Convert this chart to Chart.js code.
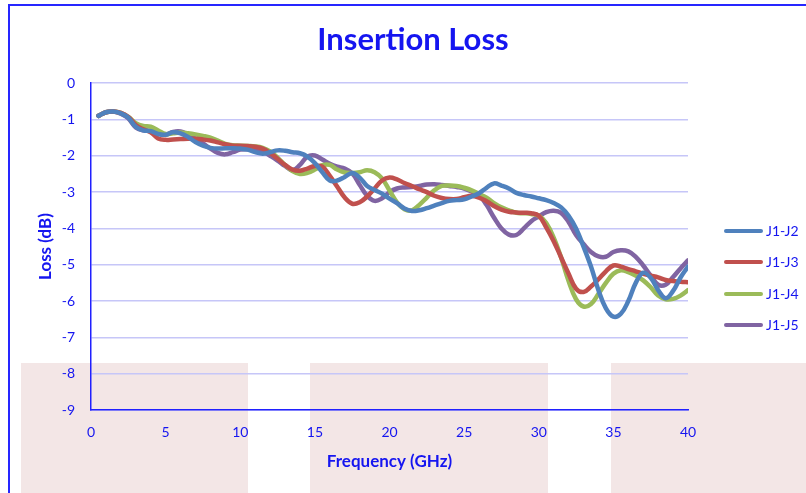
<!DOCTYPE html>
<html>
<head>
<meta charset="utf-8">
<script src="https://cdn.jsdelivr.net/npm/chart.js@4.4.1/dist/chart.umd.min.js"></script>
<style>
  html, body { margin: 0; padding: 0; background: #fff; overflow: hidden; }
  #wrap { position: relative; width: 806px; height: 493px; overflow: hidden; font-family: Lato, sans-serif; }
  .pink { position: absolute; top: 363px; height: 140px; background: #f3e6e6; }
  #frame { position: absolute; left: 8px; top: 4px; width: 900px; height: 600px;
           border-left: 2px solid #2626ff; border-top: 2px solid #2626ff; }
  #chart { position: absolute; left: 0; top: 0; }
  #legend { position: absolute; left: 724px; top: 0; }
  .item { position: absolute; left: 0; width: 90px; height: 18px; }
  .item .sw { position: absolute; left: 0; top: 7px; width: 39px; height: 4px; border-radius: 2px; }
  .item .lb { position: absolute; left: 42px; top: 0; font-size: 14px; line-height: 18px; color: #1515f0; white-space: nowrap; }
</style>
</head>
<body>
<div id="wrap">
  <div class="pink" style="left:21px;width:227px"></div>
  <div class="pink" style="left:310px;width:238px"></div>
  <div class="pink" style="left:611px;width:200px"></div>
  <div id="frame"></div>
  <canvas id="chart" width="806" height="493"></canvas>
  <div id="legend"></div>
</div>
<script>
// Frecuencias (GHz), paso de 0.5
const freq = [];
for (let f = 0.5; f <= 40; f += 0.5) freq.push(f);

const seriesNames = ['J1-J2', 'J1-J3', 'J1-J4', 'J1-J5'];
const seriesColors = ['#4f81bd', '#c0504d', '#9bbb59', '#8064a2'];

const lossJ2 = [
  -0.9, -0.8, -0.78, -0.83, -0.95, -1.2, -1.3, -1.32, -1.4, -1.42,
  -1.35, -1.38, -1.48, -1.62, -1.72, -1.78, -1.8, -1.79, -1.79, -1.8,
  -1.83, -1.9, -1.94, -1.9, -1.85, -1.86, -1.9, -1.93, -2.02, -2.2,
  -2.45, -2.68, -2.68, -2.58, -2.47, -2.6, -2.83, -2.94, -3.04, -3.18,
  -3.3, -3.45, -3.52, -3.5, -3.44, -3.37, -3.3, -3.24, -3.22, -3.2,
  -3.12, -3.03, -2.88, -2.76, -2.82, -2.9, -3.02, -3.08, -3.12, -3.17,
  -3.22, -3.3, -3.42, -3.65, -4.0, -4.5, -5.05, -5.7, -6.2, -6.43,
  -6.35, -6.0, -5.5, -5.22, -5.36, -5.7, -5.92, -5.72, -5.35, -5.05
];
const lossJ3 = [
  -0.9, -0.8, -0.78, -0.82, -0.93, -1.15, -1.27, -1.35, -1.52, -1.56,
  -1.55, -1.54, -1.53, -1.53, -1.55, -1.58, -1.63, -1.68, -1.72, -1.72,
  -1.73, -1.75, -1.8, -1.92, -2.08, -2.25, -2.38, -2.41, -2.35, -2.28,
  -2.3, -2.55, -2.85, -3.15, -3.32, -3.28, -3.12, -2.9, -2.68, -2.6,
  -2.65, -2.75, -2.83, -2.92, -3.0, -3.1, -3.16, -3.19, -3.19, -3.14,
  -3.1, -3.15, -3.25, -3.38, -3.48, -3.54, -3.56, -3.57, -3.58, -3.65,
  -3.97, -4.35, -4.8, -5.25, -5.66, -5.75, -5.6, -5.4, -5.18, -5.02,
  -5.05, -5.12, -5.18, -5.25, -5.3, -5.35, -5.42, -5.45, -5.47, -5.48
];
const lossJ4 = [
  -0.9, -0.8, -0.78, -0.82, -0.93, -1.1, -1.18, -1.2, -1.3, -1.4,
  -1.38, -1.36, -1.38, -1.41, -1.45, -1.5, -1.58, -1.67, -1.71, -1.72,
  -1.73, -1.74, -1.78, -1.88, -2.05, -2.25, -2.42, -2.5, -2.47, -2.38,
  -2.26, -2.25, -2.38, -2.46, -2.47, -2.45, -2.4, -2.45, -2.62, -2.95,
  -3.28, -3.47, -3.5, -3.35, -3.15, -2.95, -2.83, -2.82, -2.83, -2.88,
  -2.95, -3.05, -3.15, -3.3, -3.42, -3.5, -3.57, -3.58, -3.6, -3.65,
  -3.85, -4.25, -4.8, -5.45, -5.95, -6.15, -6.08, -5.8, -5.5, -5.25,
  -5.15, -5.2, -5.3, -5.43, -5.62, -5.85, -5.95, -5.94, -5.85, -5.7
];
const lossJ5 = [
  -0.9, -0.8, -0.78, -0.84, -0.97, -1.22, -1.3, -1.32, -1.38, -1.42,
  -1.34, -1.33, -1.42, -1.53, -1.66, -1.8, -1.92, -1.96, -1.9, -1.83,
  -1.82, -1.85, -1.88, -2.0, -2.13, -2.28, -2.4, -2.25, -2.02, -1.99,
  -2.1, -2.22, -2.3, -2.35, -2.48, -2.8, -3.1, -3.24, -3.17, -3.0,
  -2.9, -2.87, -2.86, -2.83, -2.79, -2.78, -2.8, -2.83, -2.86, -2.9,
  -2.98, -3.08, -3.35, -3.7, -4.0, -4.17, -4.18, -4.0, -3.8, -3.67,
  -3.55, -3.51, -3.57, -3.82, -4.18, -4.43, -4.65, -4.77, -4.78, -4.65,
  -4.6, -4.63, -4.78, -5.02, -5.3, -5.55, -5.55, -5.34, -5.1, -4.88
];
const allSeries = [lossJ2, lossJ3, lossJ4, lossJ5];

const textBlue = '#1515f0';
const gridColor = '#c6c6f8';
const axisBlue = '#2020ff';

const datasets = allSeries.map((vals, i) => ({
  label: seriesNames[i],
  data: vals.map((v, k) => ({ x: freq[k], y: v })),
  borderColor: seriesColors[i],
  backgroundColor: seriesColors[i],
  borderWidth: 4.5,
  pointRadius: 0,
  tension: 0.4,
  borderCapStyle: 'round',
  fill: false
}));

new Chart(document.getElementById('chart'), {
  type: 'line',
  data: { datasets },
  options: {
    responsive: false,
    animation: false,
    layout: { padding: { left: 20, right: 0, top: 0, bottom: 13 } },
    plugins: {
      legend: { display: false },
      tooltip: { enabled: false },
      title: {
        display: true,
        text: 'Insertion Loss',
        color: textBlue,
        font: { family: 'Lato', size: 31, weight: 'bold' },
        padding: { top: 21, bottom: 25 }
      }
    },
    scales: {
      x: {
        type: 'linear',
        min: 0,
        max: 40,
        ticks: { stepSize: 5, color: textBlue, padding: 14, font: { family: 'Lato', size: 14 } },
        grid: { display: false, drawTicks: false },
        border: { color: axisBlue, width: 1.5 },
        title: {
          display: true,
          text: 'Frequency (GHz)',
          color: textBlue,
          font: { family: 'Lato', size: 17, weight: 'bold' },
          padding: { top: 0, bottom: 8 }
        },
        afterFit: s => { s.height = 70; }
      },
      y: {
        min: -9,
        max: 0,
        ticks: { stepSize: 1, color: textBlue, padding: 16, font: { family: 'Lato', size: 14 } },
        grid: { color: gridColor, lineWidth: 1.5, drawTicks: false },
        border: { color: axisBlue, width: 1.5 },
        title: {
          display: true,
          text: 'Loss (dB)',
          color: textBlue,
          font: { family: 'Lato', size: 17, weight: 'bold' },
          padding: { top: 15, bottom: 0 }
        },
        afterFit: s => { s.width = 71; }
      },
      // espacio vacío a la derecha para la leyenda
      legendSpace: {
        type: 'linear',
        position: 'right',
        display: true,
        grid: { display: false, drawTicks: false },
        border: { display: false },
        ticks: { display: false },
        afterFit: s => { s.width = 118; }
      }
    }
  }
});

// Leyenda a la derecha
const legend = document.getElementById('legend');
const legendTops = [222, 253, 285, 316];
seriesNames.forEach((name, i) => {
  const item = document.createElement('div');
  item.className = 'item';
  item.style.top = legendTops[i] + 'px';
  item.innerHTML = '<div class="sw" style="background:' + seriesColors[i] + '"></div><div class="lb">' + name + '</div>';
  legend.appendChild(item);
});
</script>
</body>
</html>
